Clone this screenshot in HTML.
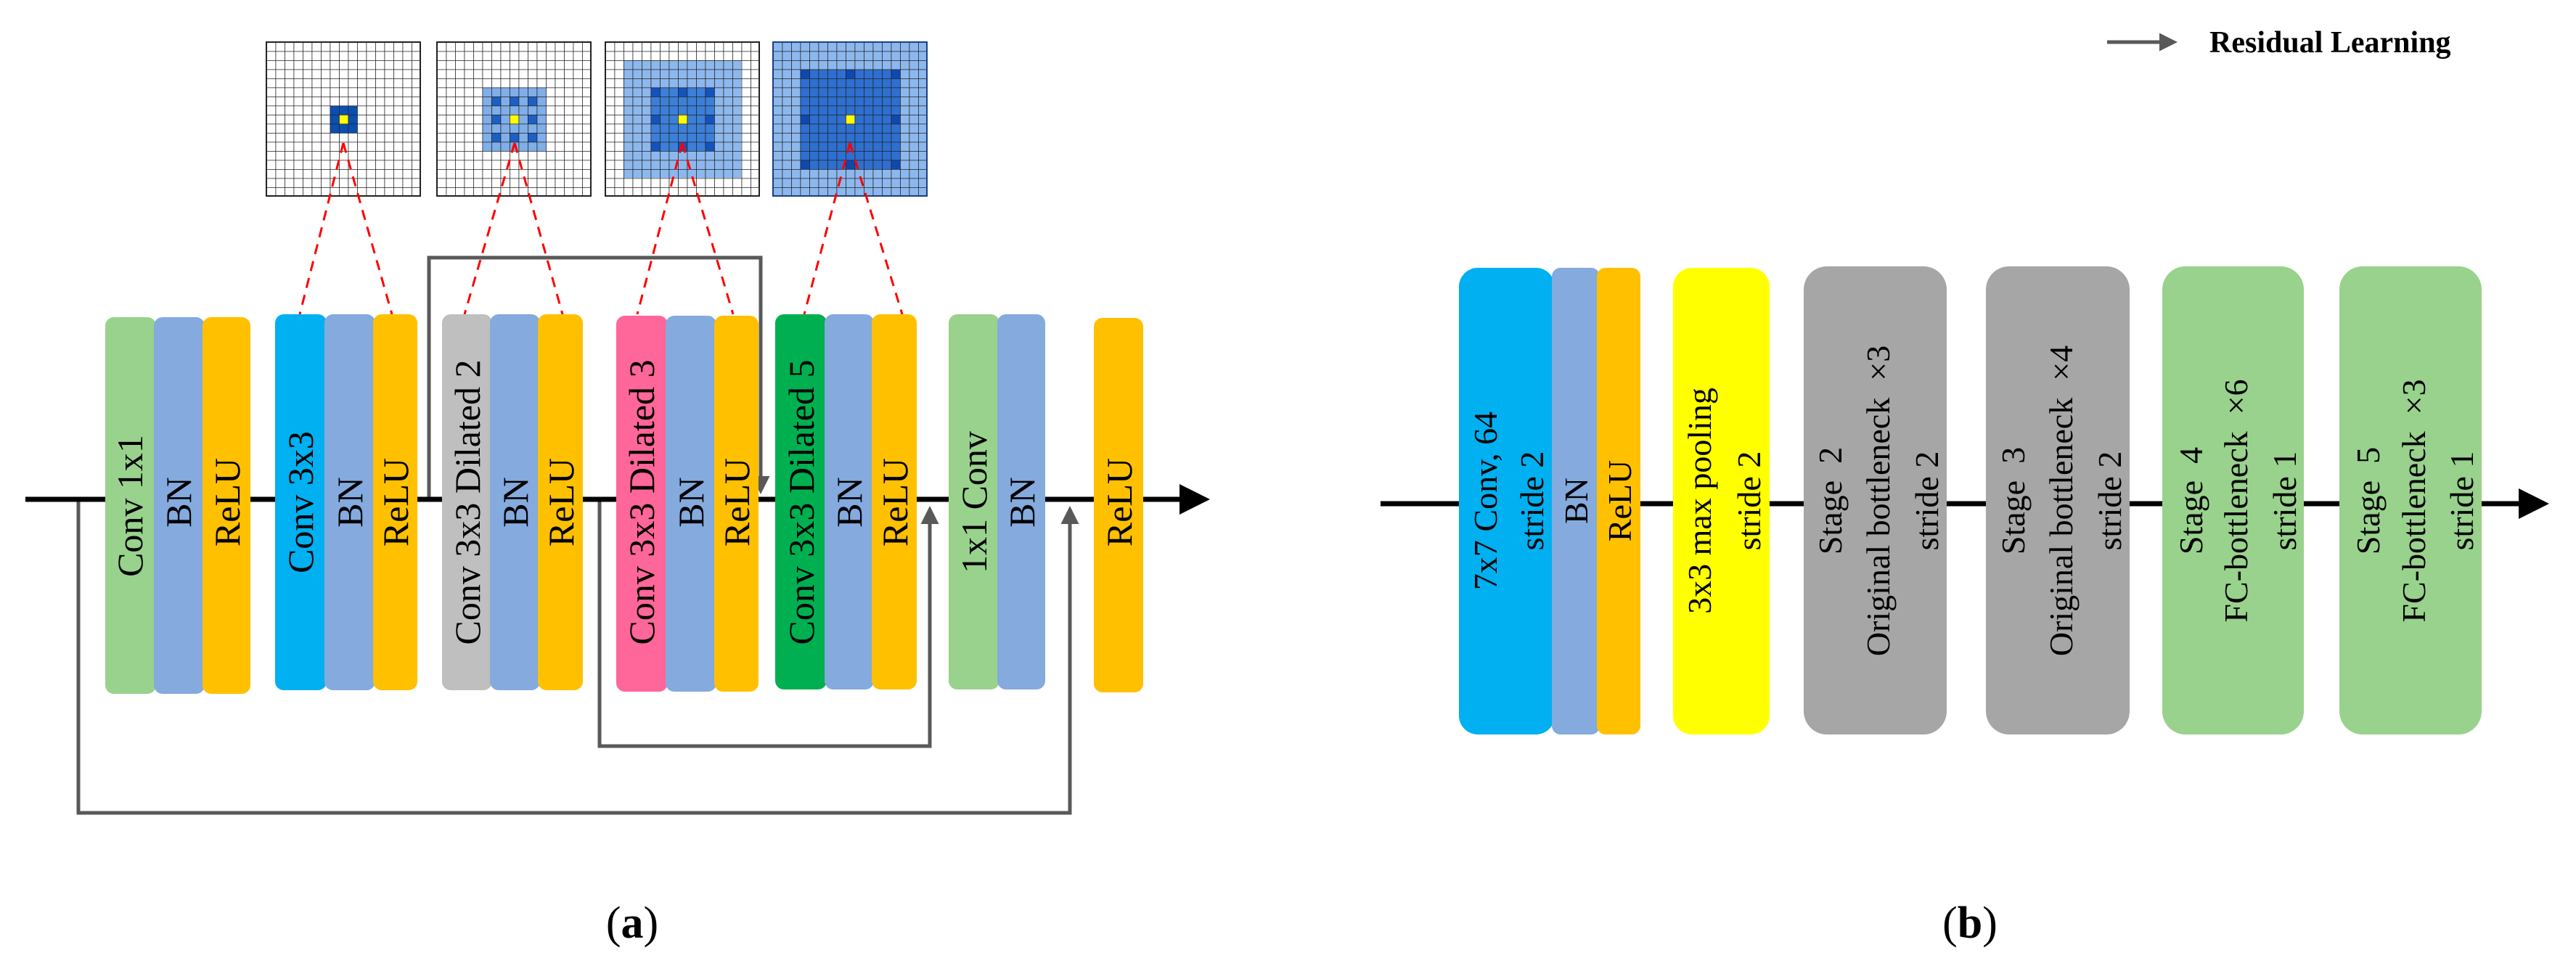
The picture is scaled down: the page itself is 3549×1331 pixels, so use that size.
<!DOCTYPE html>
<html><head><meta charset="utf-8"><style>
html,body{margin:0;padding:0;background:#fff;}
svg{display:block;}
text{font-family:"Liberation Serif",serif;fill:#000;}
</style></head><body>
<svg width="3549" height="1331" viewBox="0 0 3549 1331" xmlns="http://www.w3.org/2000/svg">
<defs>
<pattern id="g" x="0" y="0" width="12.5" height="12.5" patternUnits="userSpaceOnUse">
<path d="M0 0 H12.5 M0 0 V12.5" stroke="#222" stroke-width="1.6" fill="none"/>
</pattern>
<marker id="ab" markerWidth="6" markerHeight="6" refX="5" refY="3" orient="auto" markerUnits="strokeWidth"><path d="M0,0 L6,3 L0,6 z" fill="#000"/></marker>
<marker id="ag" markerWidth="5" markerHeight="5" refX="4" refY="2.5" orient="auto" markerUnits="strokeWidth"><path d="M0,0 L5,2.5 L0,5 z" fill="#595959"/></marker>
</defs>

<!-- grids -->
<g transform="translate(367,58)">
<rect width="212" height="212" fill="#fff"/>
<rect x="87.5" y="87.5" width="37.5" height="37.5" fill="#0B4FB0"/>
<rect x="100" y="100" width="12.5" height="12.5" fill="#FFFF00"/>
<rect width="212" height="212" fill="url(#g)" stroke="#222" stroke-width="2"/>
</g>
<g transform="translate(602,58)">
<rect width="212" height="212" fill="#fff"/>
<rect x="62.5" y="62.5" width="87.5" height="87.5" fill="#7FAEE8"/>
<g fill="#1D5FC4"><rect x="75" y="75" width="12.5" height="12.5"/><rect x="100" y="75" width="12.5" height="12.5"/><rect x="125" y="75" width="12.5" height="12.5"/><rect x="75" y="100" width="12.5" height="12.5"/><rect x="125" y="100" width="12.5" height="12.5"/><rect x="75" y="125" width="12.5" height="12.5"/><rect x="100" y="125" width="12.5" height="12.5"/><rect x="125" y="125" width="12.5" height="12.5"/></g>
<rect x="100" y="100" width="12.5" height="12.5" fill="#FFFF00"/>
<rect width="212" height="212" fill="url(#g)" stroke="#222" stroke-width="2"/>
</g>
<g transform="translate(834,58)">
<rect width="212" height="212" fill="#fff"/>
<rect x="25" y="25" width="162" height="162" fill="#8DB8EE"/>
<rect x="62.5" y="62.5" width="87.5" height="87.5" fill="#3C7FD8"/>
<g fill="#1452BE"><rect x="62.5" y="62.5" width="12.5" height="12.5"/><rect x="100" y="62.5" width="12.5" height="12.5"/><rect x="137.5" y="62.5" width="12.5" height="12.5"/><rect x="62.5" y="100" width="12.5" height="12.5"/><rect x="137.5" y="100" width="12.5" height="12.5"/><rect x="62.5" y="137.5" width="12.5" height="12.5"/><rect x="100" y="137.5" width="12.5" height="12.5"/><rect x="137.5" y="137.5" width="12.5" height="12.5"/></g>
<rect x="100" y="100" width="12.5" height="12.5" fill="#FFFF00"/>
<rect width="212" height="212" fill="url(#g)" stroke="#222" stroke-width="2"/>
</g>
<g transform="translate(1065,58)">
<rect width="212" height="212" fill="#8DB8EE"/>
<rect x="37.5" y="37.5" width="137.5" height="137.5" fill="#2E6FD0"/>
<g fill="#0F48B0"><rect x="37.5" y="37.5" width="12.5" height="12.5"/><rect x="100" y="37.5" width="12.5" height="12.5"/><rect x="162.5" y="37.5" width="12.5" height="12.5"/><rect x="37.5" y="100" width="12.5" height="12.5"/><rect x="162.5" y="100" width="12.5" height="12.5"/><rect x="37.5" y="162.5" width="12.5" height="12.5"/><rect x="100" y="162.5" width="12.5" height="12.5"/><rect x="162.5" y="162.5" width="12.5" height="12.5"/></g>
<rect x="100" y="100" width="12.5" height="12.5" fill="#FFFF00"/>
<rect width="212" height="212" fill="url(#g)" stroke="#1a3f80" stroke-width="2"/>
</g>

<!-- red dashed -->
<g stroke="#FF0000" stroke-width="3" stroke-dasharray="14,10" fill="none">
<path d="M473 197 L413 433 M473 197 L540 433"/>
<path d="M709 197 L640 433 M709 197 L775 433"/>
<path d="M940 197 L878 433 M940 197 L1010 433"/>
<path d="M1171 197 L1108 433 M1171 197 L1243 433"/>
</g>

<!-- connectors panel a -->
<g stroke="#595959" stroke-width="5" fill="none">
<path d="M591 688 V355 H1048 V676" marker-end="url(#ag)"/>
<path d="M826 688 V1028 H1281 V702" marker-end="url(#ag)"/>
<path d="M108 688 V1120 H1474 V702" marker-end="url(#ag)"/>
</g>
<!-- main line a -->
<line x1="35" y1="688" x2="1660" y2="688" stroke="#000" stroke-width="7" marker-end="url(#ab)"/>

<!-- boxes a -->
<g>
<rect x="145" y="437" width="70" height="519" rx="12" fill="#98D28C"/>
<rect x="212" y="437" width="70" height="519" rx="12" fill="#84AADE"/>
<rect x="279" y="437" width="66" height="519" rx="12" fill="#FFC000"/>
<rect x="379" y="433" width="71" height="518" rx="12" fill="#00B0F0"/>
<rect x="447" y="433" width="70" height="518" rx="12" fill="#84AADE"/>
<rect x="514" y="433" width="61" height="518" rx="12" fill="#FFC000"/>
<rect x="609" y="433" width="69" height="518" rx="12" fill="#BFBFBF"/>
<rect x="675" y="433" width="69" height="518" rx="12" fill="#84AADE"/>
<rect x="741" y="433" width="62" height="518" rx="12" fill="#FFC000"/>
<rect x="849" y="435" width="71" height="518" rx="12" fill="#FF6699"/>
<rect x="917" y="435" width="70" height="518" rx="12" fill="#84AADE"/>
<rect x="984" y="435" width="61" height="518" rx="12" fill="#FFC000"/>
<rect x="1068" y="433" width="71" height="517" rx="12" fill="#00B050"/>
<rect x="1136" y="433" width="68" height="517" rx="12" fill="#84AADE"/>
<rect x="1201" y="433" width="62" height="517" rx="12" fill="#FFC000"/>
<rect x="1307" y="433" width="70" height="517" rx="12" fill="#98D28C"/>
<rect x="1374" y="433" width="66" height="517" rx="12" fill="#84AADE"/>
<rect x="1507" y="438" width="68" height="516" rx="12" fill="#FFC000"/>
</g>
<g font-size="50">
<text transform="translate(196,697) rotate(-90)" text-anchor="middle">Conv 1x1</text>
<text transform="translate(263,692) rotate(-90)" text-anchor="middle">BN</text>
<text transform="translate(330,692) rotate(-90)" text-anchor="middle">ReLU</text>
<text transform="translate(431,692) rotate(-90)" text-anchor="middle">Conv 3x3</text>
<text transform="translate(499,692) rotate(-90)" text-anchor="middle">BN</text>
<text transform="translate(562,692) rotate(-90)" text-anchor="middle">ReLU</text>
<text transform="translate(661,692) rotate(-90)" text-anchor="middle">Conv 3x3 Dilated 2</text>
<text transform="translate(727,692) rotate(-90)" text-anchor="middle">BN</text>
<text transform="translate(790,692) rotate(-90)" text-anchor="middle">ReLU</text>
<text transform="translate(901,692) rotate(-90)" text-anchor="middle">Conv 3x3 Dilated 3</text>
<text transform="translate(969,692) rotate(-90)" text-anchor="middle">BN</text>
<text transform="translate(1032,692) rotate(-90)" text-anchor="middle">ReLU</text>
<text transform="translate(1121,692) rotate(-90)" text-anchor="middle">Conv 3x3 Dilated 5</text>
<text transform="translate(1187,692) rotate(-90)" text-anchor="middle">BN</text>
<text transform="translate(1250,692) rotate(-90)" text-anchor="middle">ReLU</text>
<text transform="translate(1359,692) rotate(-90)" text-anchor="middle">1x1 Conv</text>
<text transform="translate(1425,692) rotate(-90)" text-anchor="middle">BN</text>
<text transform="translate(1559,692) rotate(-90)" text-anchor="middle">ReLU</text>
</g>

<!-- panel b -->
<line x1="1902" y1="694" x2="3505" y2="694" stroke="#000" stroke-width="7" marker-end="url(#ab)"/>
<rect x="2010" y="369" width="132" height="643" rx="26" fill="#00B0F0"/>
<rect x="2138" y="369" width="66" height="643" rx="12" fill="#84AADE"/>
<rect x="2200" y="369" width="60" height="643" rx="12" fill="#FFC000"/>
<rect x="2305" y="369" width="133" height="643" rx="26" fill="#FFFF00"/>
<rect x="2485" y="367" width="197" height="645" rx="32" fill="#A6A6A6"/>
<rect x="2736" y="367" width="198" height="645" rx="32" fill="#A6A6A6"/>
<rect x="2979" y="367" width="195" height="645" rx="32" fill="#98D28C"/>
<rect x="3223" y="367" width="196" height="645" rx="32" fill="#98D28C"/>
<g font-size="46">
<text transform="translate(2062,690) rotate(-90)" text-anchor="middle">7x7 Conv, 64</text>
<text transform="translate(2126,690) rotate(-90)" text-anchor="middle">stride 2</text>
<text transform="translate(2187,690) rotate(-90)" text-anchor="middle">BN</text>
<text transform="translate(2247,690) rotate(-90)" text-anchor="middle">ReLU</text>
<text transform="translate(2357,690) rotate(-90)" text-anchor="middle">3x3 max pooling</text>
<text transform="translate(2425,690) rotate(-90)" text-anchor="middle">stride 2</text>
<text transform="translate(2537,690) rotate(-90)" text-anchor="middle" xml:space="preserve">Stage  2</text>
<text transform="translate(2603,690) rotate(-90)" text-anchor="middle" xml:space="preserve">Original bottleneck  ×3</text>
<text transform="translate(2670,690) rotate(-90)" text-anchor="middle">stride 2</text>
<text transform="translate(2789,690) rotate(-90)" text-anchor="middle" xml:space="preserve">Stage  3</text>
<text transform="translate(2855,690) rotate(-90)" text-anchor="middle" xml:space="preserve">Original bottleneck  ×4</text>
<text transform="translate(2922,690) rotate(-90)" text-anchor="middle">stride 2</text>
<text transform="translate(3034,690) rotate(-90)" text-anchor="middle" xml:space="preserve">Stage  4</text>
<text transform="translate(3096,690) rotate(-90)" text-anchor="middle" xml:space="preserve">FC-bottleneck  ×6</text>
<text transform="translate(3163,690) rotate(-90)" text-anchor="middle">stride 1</text>
<text transform="translate(3278,690) rotate(-90)" text-anchor="middle" xml:space="preserve">Stage  5</text>
<text transform="translate(3341,690) rotate(-90)" text-anchor="middle" xml:space="preserve">FC-bottleneck  ×3</text>
<text transform="translate(3407,690) rotate(-90)" text-anchor="middle">stride 1</text>
</g>

<!-- legend -->
<line x1="2903" y1="58" x2="2995" y2="58" stroke="#595959" stroke-width="5" marker-end="url(#ag)"/>
<text x="3044" y="72" font-size="42" font-weight="bold">Residual Learning</text>

<!-- captions -->
<text x="871" y="1292" font-size="62" text-anchor="middle">(<tspan font-weight="bold">a</tspan>)</text>
<text x="2714" y="1292" font-size="62" text-anchor="middle">(<tspan font-weight="bold">b</tspan>)</text>
</svg>
</body></html>
